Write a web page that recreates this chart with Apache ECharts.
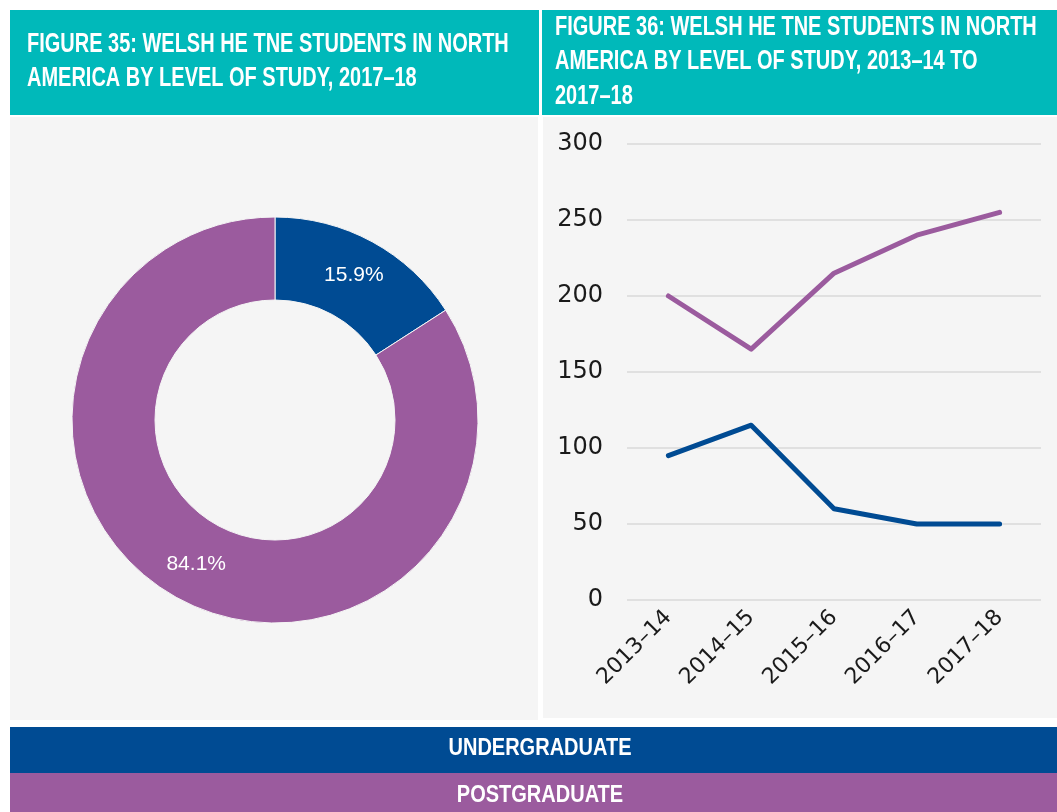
<!DOCTYPE html>
<html>
<head>
<meta charset="utf-8">
<title>Welsh HE TNE students in North America</title>
<script src="https://cdn.jsdelivr.net/npm/echarts@6/dist/echarts.min.js"></script>
<style>
  html, body { margin: 0; padding: 0; background: #fff; }
  #chart { width: 1057px; height: 812px; }
</style>
</head>
<body>
<div id="chart"></div>
<script>
// data
var levels = ['Undergraduate', 'Postgraduate'];
var shares2017 = [15.9, 84.1];          // figure 35, %
var years = ['2013–14', '2014–15', '2015–16', '2016–17', '2017–18'];
var undergrad = [95, 115, 60, 50, 50];  // figure 36
var postgrad = [200, 165, 215, 240, 255];
var yMin = 0, yMax = 300, yStep = 50;

var BLUE = '#004b93';
var PURPLE = '#9b5b9e';
var TEAL = '#00b9ba';
var PANEL = '#f5f5f5';
var HEAD_FONT = '"Liberation Sans", Arial, sans-serif';

// header / legend text, squeezed to look like a condensed face
function headText(str, x, y, size, sx, align) {
    return {
        type: 'text', x: x, y: y, scaleX: sx, z: 10,
        style: {
            text: str, fill: '#fff', font: 'bold ' + size + 'px ' + HEAD_FONT,
            textAlign: align || 'left', textVerticalAlign: 'middle'
        }
    };
}
function box(x, y, w, h, color) {
    return { type: 'rect', shape: { x: x, y: y, width: w, height: h }, style: { fill: color }, z: -10, silent: true };
}

var myChart = echarts.init(document.getElementById('chart'));
var option = {
    backgroundColor: '#fff',
    animation: false,
    graphic: [
        box(10, 10, 529, 105, TEAL),
        box(542, 10, 515, 105, TEAL),
        box(10, 117, 528, 603, PANEL),
        box(543, 117, 514, 601, PANEL),
        box(10, 727, 1047, 46, BLUE),
        box(10, 773, 1047, 39, PURPLE),
        headText('FIGURE 35: WELSH HE TNE STUDENTS IN NORTH', 27, 45, 27, 0.74),
        headText('AMERICA BY LEVEL OF STUDY, 2017–18', 27, 79, 27, 0.74),
        headText('FIGURE 36: WELSH HE TNE STUDENTS IN NORTH', 555, 28, 27, 0.74),
        headText('AMERICA BY LEVEL OF STUDY, 2013–14 TO', 555, 62, 27, 0.74),
        headText('2017–18', 555, 97, 27, 0.74),
        headText(levels[0].toUpperCase(), 540, 749, 23, 0.87, 'center'),
        headText(levels[1].toUpperCase(), 540, 796, 23, 0.87, 'center')
    ],
    grid: {
        left: 627,
        top: 144,
        width: 414,
        height: 456
    },
    xAxis: {
        type: 'category',
        data: years,
        boundaryGap: true,
        axisLine: { show: false },
        axisTick: { show: false },
        axisLabel: {
            rotate: 45,
            margin: 14,
            color: '#1a1a1a',
            fontSize: 22,
            fontFamily: '"DejaVu Sans", sans-serif'
        }
    },
    yAxis: {
        type: 'value',
        min: yMin,
        max: yMax,
        interval: yStep,
        axisLine: { show: false },
        axisTick: { show: false },
        axisLabel: {
            margin: 24,
            color: '#1a1a1a',
            fontSize: 24,
            fontFamily: '"DejaVu Sans", sans-serif'
        },
        //y轴分割线
        splitLine: {
            lineStyle: { color: '#d9d9d9', width: 1.5 }
        }
    },
    series: [
        {
            name: 'share',
            type: 'pie',
            center: [275, 420],
            radius: [120, 203],
            startAngle: 90,
            clockwise: true,
            itemStyle: { borderColor: PANEL, borderWidth: 1 },
            label: {
                position: 'inside',
                color: '#fff',
                fontSize: 21,
                fontFamily: '"Liberation Sans", Arial, sans-serif',
                formatter: function (p) { return p.value.toFixed(1) + '%'; }
            },
            labelLine: { show: false },
            data: [
                { name: levels[0], value: shares2017[0], itemStyle: { color: BLUE } },
                { name: levels[1], value: shares2017[1], itemStyle: { color: PURPLE } }
            ]
        },
        {
            name: levels[0],
            type: 'line',
            data: undergrad,
            showSymbol: false,
            lineStyle: { color: BLUE, width: 5, cap: 'round', join: 'round' },
            itemStyle: { color: BLUE }
        },
        {
            name: levels[1],
            type: 'line',
            data: postgrad,
            showSymbol: false,
            lineStyle: { color: PURPLE, width: 5, cap: 'round', join: 'round' },
            itemStyle: { color: PURPLE }
        }
    ]
};
myChart.setOption(option);
</script>
</body>
</html>
